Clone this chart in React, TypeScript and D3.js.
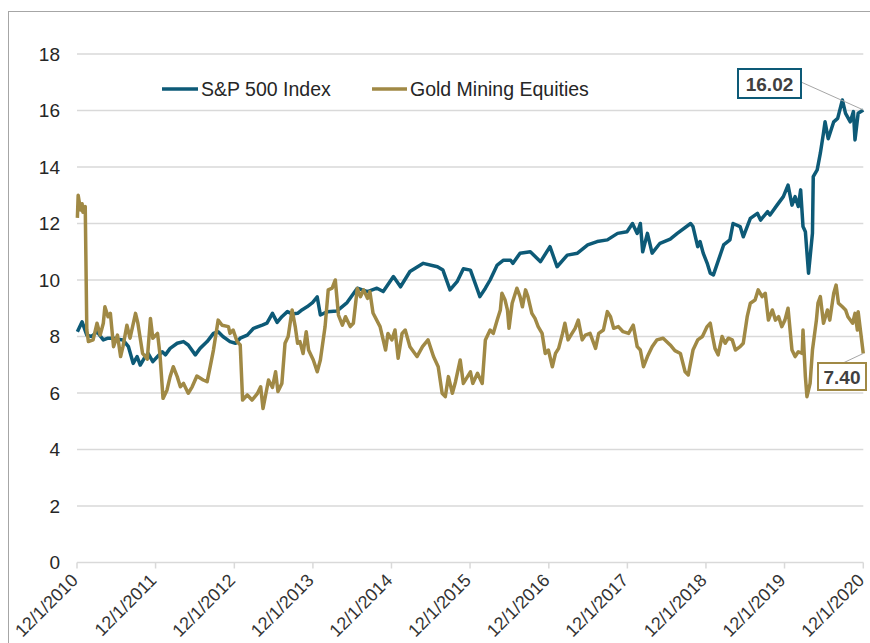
import * as d3 from "d3";

// decimal years (x position) and the values at them
const spxYears = [
  2010.92, 2010.98, 2011.04, 2011.1, 2011.17, 2011.25, 2011.31, 2011.38, 2011.44, 2011.5,
  2011.57, 2011.63, 2011.68, 2011.72, 2011.77, 2011.82, 2011.88, 2011.94, 2012.0, 2012.04,
  2012.1, 2012.19, 2012.27, 2012.33, 2012.42, 2012.48, 2012.57, 2012.65, 2012.71, 2012.77,
  2012.86, 2012.93, 2012.99, 2013.08, 2013.16, 2013.27, 2013.33, 2013.4, 2013.46, 2013.52,
  2013.59, 2013.65, 2013.72, 2013.78, 2013.84, 2013.91, 2013.97, 2014.01, 2014.1, 2014.22,
  2014.35, 2014.48, 2014.61, 2014.73, 2014.81, 2014.94, 2015.03, 2015.15, 2015.32, 2015.5,
  2015.57, 2015.66, 2015.75, 2015.83, 2015.92, 2016.01, 2016.04, 2016.11, 2016.17, 2016.26,
  2016.34, 2016.43, 2016.46, 2016.55, 2016.68, 2016.81, 2016.93, 2017.02, 2017.15, 2017.28,
  2017.41, 2017.53, 2017.66, 2017.79, 2017.91, 2017.98, 2018.04, 2018.08, 2018.11, 2018.17,
  2018.23, 2018.33, 2018.46, 2018.55, 2018.72, 2018.75, 2018.81, 2018.84, 2018.88, 2018.93,
  2018.97, 2019.01, 2019.06, 2019.14, 2019.22, 2019.26, 2019.35, 2019.39, 2019.48, 2019.57,
  2019.61, 2019.7, 2019.73, 2019.82, 2019.9, 2019.96, 2020.01, 2020.05, 2020.09, 2020.12,
  2020.15, 2020.18, 2020.22, 2020.27, 2020.28, 2020.33, 2020.37, 2020.41, 2020.43, 2020.47,
  2020.54, 2020.59, 2020.65, 2020.69, 2020.75, 2020.79, 2020.81, 2020.85, 2020.915,
];
const spxValues = [
  8.17, 8.52, 8.05, 8.0, 8.17, 7.88, 7.94, 7.94, 7.9, 7.88,
  7.64, 7.05, 7.29, 6.99, 7.23, 7.4, 7.11, 7.29, 7.46, 7.35,
  7.58, 7.76, 7.82, 7.7, 7.35, 7.58, 7.82, 8.11, 8.17, 8.0,
  7.82, 7.76, 7.94, 8.05, 8.29, 8.4, 8.47, 8.82, 8.5, 8.7,
  8.88, 8.8, 8.82, 8.95, 9.05, 9.2, 9.4, 8.76, 8.88, 8.9,
  9.2, 9.71, 9.59, 9.71, 9.59, 10.12, 9.76, 10.3, 10.59, 10.47,
  10.35, 9.65, 9.94, 10.4, 10.35, 9.65, 9.41, 9.71, 10.0, 10.53,
  10.7, 10.7, 10.59, 10.95, 11.0, 10.65, 11.18, 10.47, 10.88, 10.95,
  11.24, 11.36, 11.42, 11.65, 11.71, 12.0, 11.65, 12.0, 11.0, 11.65,
  10.95, 11.3, 11.45, 11.65, 12.0, 11.89, 11.18, 11.36, 10.95, 10.6,
  10.24, 10.18, 10.59, 11.24, 11.42, 12.0, 11.89, 11.53, 12.18, 12.36,
  12.12, 12.42, 12.3, 12.65, 12.95, 13.36, 12.65, 12.95, 12.6, 13.19,
  11.89, 11.71, 10.24, 11.66, 13.66, 13.9, 14.49, 15.2, 15.6, 15.0,
  15.6, 15.72, 16.37, 15.9, 15.6, 15.96, 14.96, 15.9, 16.02,
];

const goldYears = [
  2010.92, 2010.93, 2010.96, 2010.98, 2010.99, 2011.02, 2011.04, 2011.06, 2011.12, 2011.17,
  2011.21, 2011.25, 2011.27, 2011.31, 2011.34, 2011.38, 2011.43, 2011.47, 2011.5, 2011.55,
  2011.59, 2011.66, 2011.69, 2011.75, 2011.81, 2011.85, 2011.88, 2011.94, 2011.97, 2012.01,
  2012.06, 2012.1, 2012.14, 2012.19, 2012.23, 2012.27, 2012.33, 2012.38, 2012.44, 2012.52,
  2012.57, 2012.61, 2012.65, 2012.71, 2012.76, 2012.84, 2012.86, 2012.9, 2012.95, 2012.99,
  2013.02, 2013.08, 2013.14, 2013.21, 2013.25, 2013.28, 2013.35, 2013.4, 2013.44, 2013.47,
  2013.52, 2013.56, 2013.6, 2013.65, 2013.69, 2013.72, 2013.75, 2013.79, 2013.83, 2013.86,
  2013.92, 2013.97, 2014.01, 2014.07, 2014.11, 2014.16, 2014.2, 2014.24, 2014.29, 2014.33,
  2014.39, 2014.43, 2014.48, 2014.52, 2014.56, 2014.61, 2014.64, 2014.68, 2014.77, 2014.84,
  2014.87, 2014.92, 2014.96, 2015.0, 2015.05, 2015.09, 2015.15, 2015.24, 2015.31, 2015.38,
  2015.45, 2015.51, 2015.56, 2015.6, 2015.64, 2015.69, 2015.73, 2015.79, 2015.83, 2015.92,
  2015.95, 2016.01, 2016.07, 2016.11, 2016.17, 2016.21, 2016.26, 2016.3, 2016.32, 2016.36,
  2016.39, 2016.41, 2016.45, 2016.51, 2016.55, 2016.58, 2016.62, 2016.65, 2016.7, 2016.74,
  2016.78, 2016.83, 2016.87, 2016.91, 2016.96, 2017.0, 2017.04, 2017.09, 2017.12, 2017.16,
  2017.21, 2017.25, 2017.29, 2017.34, 2017.38, 2017.44, 2017.51, 2017.55, 2017.61, 2017.66,
  2017.7, 2017.74, 2017.8, 2017.86, 2017.93, 2017.99, 2018.04, 2018.08, 2018.12, 2018.17,
  2018.23, 2018.29, 2018.37, 2018.46, 2018.52, 2018.59, 2018.65, 2018.69, 2018.75, 2018.81,
  2018.87, 2018.93, 2018.97, 2019.0, 2019.03, 2019.07, 2019.12, 2019.16, 2019.2, 2019.25,
  2019.29, 2019.35, 2019.39, 2019.44, 2019.48, 2019.54, 2019.58, 2019.63, 2019.67, 2019.71,
  2019.76, 2019.8, 2019.84, 2019.88, 2019.92, 2019.96, 2020.01, 2020.05, 2020.09, 2020.14,
  2020.15, 2020.18, 2020.2, 2020.24, 2020.27, 2020.32, 2020.34, 2020.37, 2020.41, 2020.46,
  2020.49, 2020.54, 2020.57, 2020.6, 2020.65, 2020.69, 2020.72, 2020.78, 2020.81, 2020.84,
  2020.85, 2020.915,
];
const goldValues = [
  12.2, 13.0, 12.48, 12.7, 12.4, 12.6, 8.23, 7.82, 7.88, 8.47,
  8.05, 8.47, 9.05, 8.7, 8.82, 7.64, 8.05, 7.29, 7.64, 8.4,
  7.94, 8.82, 8.47, 7.4, 7.2, 8.64, 7.94, 8.11, 7.4, 5.81,
  6.1, 6.58, 6.93, 6.58, 6.22, 6.34, 5.99, 6.22, 6.6, 6.46,
  6.4, 6.95, 7.52, 8.58, 8.4, 8.35, 8.11, 8.23, 7.82, 7.7,
  5.75, 5.93, 5.75, 5.99, 6.22, 5.45, 6.46, 6.2, 6.75, 6.05,
  6.34, 7.76, 8.0, 8.94, 8.35, 7.76, 7.82, 7.4, 8.17, 7.52,
  7.17, 6.75, 7.17, 8.35, 9.65, 9.71, 10.0, 8.76, 8.4, 8.7,
  8.35, 8.47, 9.7, 9.41, 9.65, 9.35, 9.59, 8.83, 8.35, 7.52,
  8.11, 7.88, 8.23, 7.23, 8.11, 8.23, 7.64, 7.29, 7.64, 7.88,
  7.29, 6.93, 5.99, 5.87, 6.58, 5.99, 6.4, 7.17, 6.34, 6.75,
  6.34, 6.7, 6.34, 7.88, 8.23, 8.11, 8.58, 8.94, 9.53, 9.29,
  8.94, 8.29, 9.18, 9.71, 9.41, 9.05, 9.65, 9.41, 8.82, 8.64,
  8.35, 8.11, 7.4, 7.52, 6.93, 7.4, 7.58, 8.11, 8.47, 7.88,
  8.11, 8.29, 8.58, 7.88, 8.05, 8.11, 7.58, 8.11, 8.23, 8.88,
  8.7, 8.29, 8.35, 8.17, 8.11, 8.4, 7.64, 7.52, 6.93, 7.29,
  7.64, 7.88, 7.94, 7.7, 7.5, 7.4, 6.75, 6.64, 7.52, 7.88,
  8.0, 8.35, 8.47, 8.0, 7.58, 7.35, 8.0, 7.76, 7.94, 7.88,
  7.52, 7.64, 7.76, 8.7, 9.18, 9.29, 9.65, 9.41, 9.53, 8.58,
  8.94, 8.58, 8.7, 8.35, 8.58, 9.0, 7.52, 7.29, 7.46, 7.4,
  8.23, 6.58, 5.87, 6.34, 7.52, 8.58, 9.18, 9.41, 8.47, 8.94,
  8.58, 9.53, 9.82, 9.18, 9.05, 8.94, 8.7, 8.47, 8.82, 8.23,
  8.88, 7.4,
];

const tickYears = [2010, 2011, 2012, 2013, 2014, 2015, 2016, 2017, 2018, 2019, 2020];
const yTicks = [0, 2, 4, 6, 8, 10, 12, 14, 16, 18];
const seriesNames = ["S&P 500 Index", "Gold Mining Equities"];
const lastLabels = ["16.02", "7.40"];

const TEAL = "#0d5a77";
const GOLD = "#a08945";
const FONT = "'Liberation Sans', Arial, sans-serif";

const W = 870;
const H = 643;
const PLOT = { left: 77, right: 863.3, top: 54, bottom: 562.5 };

// decimal year -> Date
const toDate = (t: number) => {
  const y = Math.floor(t);
  const a = +new Date(y, 0, 1);
  const b = +new Date(y + 1, 0, 1);
  return new Date(a + (t - y) * (b - a));
};

export default function App() {
  const x = d3
    .scaleTime()
    .domain([new Date(2010, 11, 1), new Date(2020, 11, 1)])
    .range([PLOT.left, PLOT.right]);
  const y = d3.scaleLinear().domain([0, 18]).range([PLOT.bottom, PLOT.top]);

  const line = d3
    .line<[Date, number]>()
    .x((d) => x(d[0]))
    .y((d) => y(d[1]));

  const spx: [Date, number][] = spxYears.map((t, i) => [toDate(t), spxValues[i]]);
  const gold: [Date, number][] = goldYears.map((t, i) => [toDate(t), goldValues[i]]);

  const spxLast = spx[spx.length - 1];
  const goldLast = gold[gold.length - 1];

  return (
    <svg
      width={W}
      height={H}
      style={{ position: "absolute", left: 0, top: 0, background: "#fff" }}
      fontFamily={FONT}
    >
      {/* outer frame, cut by the picture edge */}
      <rect x={8.5} y={11.5} width={900} height={700} fill="none" stroke="#a6a6a6" strokeWidth={1} />

      {/* gridlines + y labels */}
      {yTicks.map((v) => (
        <g key={v}>
          <line x1={PLOT.left} x2={PLOT.right} y1={y(v)} y2={y(v)} stroke="#d9d9d9" strokeWidth={1.5} />
          <text x={60} y={y(v)} textAnchor="end" dominantBaseline="central" fontSize={19} fill="#262626">
            {v}
          </text>
        </g>
      ))}

      {/* x ticks + rotated labels */}
      {tickYears.map((yr) => {
        const px = x(new Date(yr, 11, 1));
        return (
          <g key={yr}>
            <line x1={px} x2={px} y1={PLOT.bottom} y2={PLOT.bottom + 6} stroke="#d9d9d9" strokeWidth={1.5} />
            <text
              transform={`translate(${px + 2},${PLOT.bottom + 19}) rotate(-45)`}
              textAnchor="end"
              fontSize={18}
              fill="#333"
            >
              {`12/1/${yr}`}
            </text>
          </g>
        );
      })}

      <path d={line(spx) ?? ""} fill="none" stroke={TEAL} strokeWidth={3.5} strokeLinejoin="round" />
      <path d={line(gold) ?? ""} fill="none" stroke={GOLD} strokeWidth={3.5} strokeLinejoin="round" />

      {/* legend */}
      <line x1={162} x2={198} y1={89} y2={89} stroke={TEAL} strokeWidth={3.5} />
      <text x={201} y={96} fontSize={19.5} fill="#262626">{seriesNames[0]}</text>
      <line x1={372} x2={407} y1={89} y2={89} stroke={GOLD} strokeWidth={3.5} />
      <text x={410} y={96} fontSize={19.5} fill="#262626">{seriesNames[1]}</text>

      {/* last value callouts */}
      <line x1={801} y1={82} x2={x(spxLast[0])} y2={y(spxLast[1])} stroke="#a6a6a6" strokeWidth={1} />
      <rect x={738} y={69} width={63} height={29} fill="#fff" stroke={TEAL} strokeWidth={2} />
      <text x={769.5} y={84} textAnchor="middle" dominantBaseline="central" fontSize={19} fontWeight={700} fill="#404040">
        {lastLabels[0]}
      </text>

      <line x1={843} y1={363} x2={x(goldLast[0])} y2={y(goldLast[1])} stroke="#a6a6a6" strokeWidth={1} />
      <rect x={818} y={363} width={48} height={27} fill="#fff" stroke={GOLD} strokeWidth={2} />
      <text x={842} y={377} textAnchor="middle" dominantBaseline="central" fontSize={19} fontWeight={700} fill="#404040">
        {lastLabels[1]}
      </text>
    </svg>
  );
}
